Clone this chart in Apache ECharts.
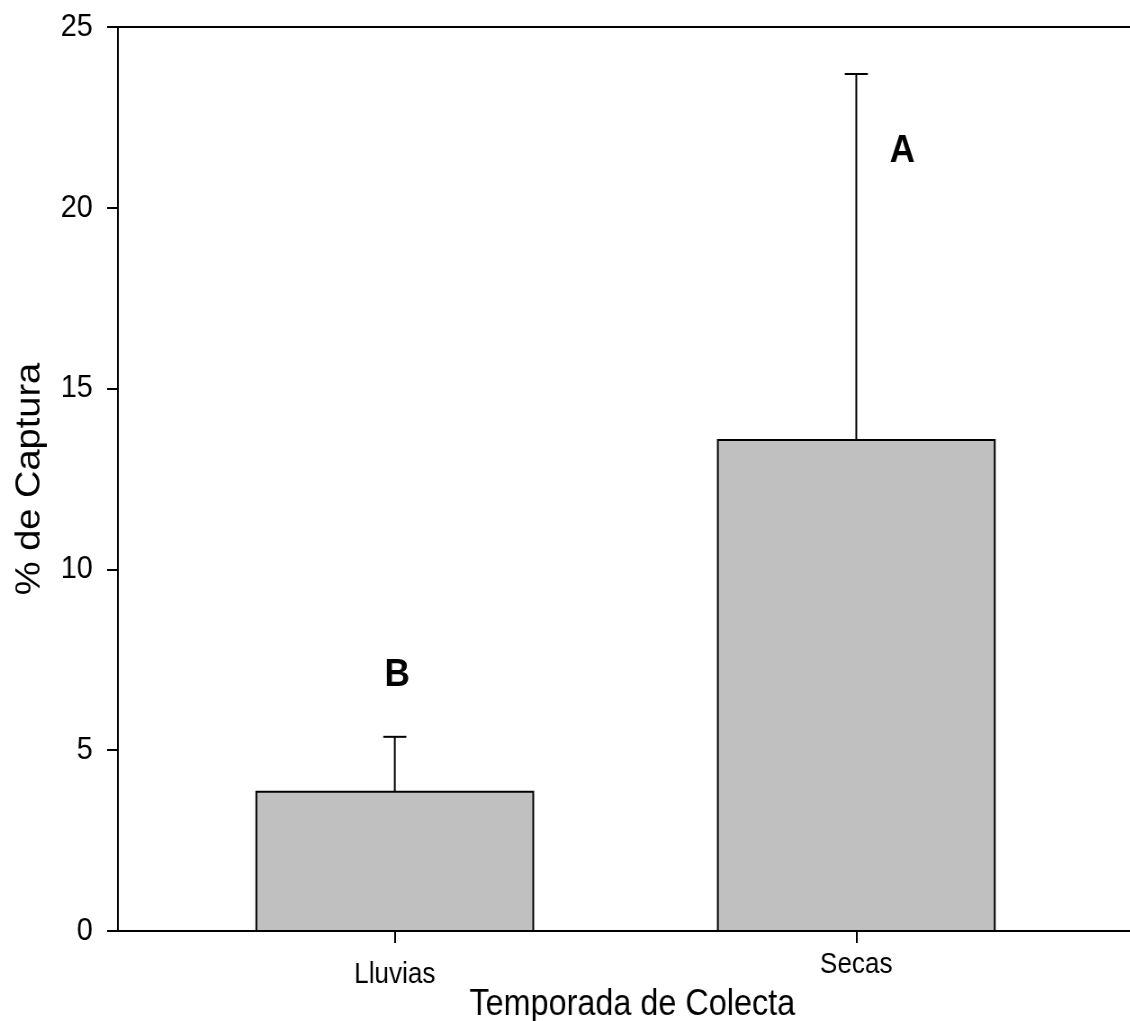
<!DOCTYPE html>
<html>
<head>
<meta charset="utf-8">
<script src="https://cdn.jsdelivr.net/npm/echarts@6/dist/echarts.min.js"></script>
<style>
html,body{margin:0;padding:0;background:#fff;overflow:hidden;}
#wrap{width:1130px;height:1021px;overflow:hidden;}
#chart{width:1256px;height:1021px;transform:scaleX(0.9);transform-origin:0 0;}
</style>
</head>
<body>
<div id="wrap"><div id="chart"></div></div>
<script>
// Data
const categories = ['Lluvias', 'Secas'];
const categoryPos = [1, 2];
const meanValues = [3.85, 13.58];
const upperValues = [5.37, 23.70];
const letterLabels = ['B', 'A'];
const letterX = [1.005, 2.1];
const letterY = [7.08, 21.57];
const yTicks = [0, 5, 10, 15, 20, 25];

const font = '"Liberation Sans", Arial, Helvetica, sans-serif';

const barData = categoryPos.map((x, i) => [x, meanValues[i]]);
const errData = categoryPos.map((x, i) => [x, meanValues[i], upperValues[i]]);
const letterData = letterLabels.map((t, i) => [letterX[i], letterY[i], t]);

const chart = echarts.init(document.getElementById('chart'));
chart.setOption({
  animation: false,
  backgroundColor: '#fff',
  grid: { left: 131, right: 0, top: 27, bottom: 90, containLabel: false, outerBoundsMode: 'none' },
  xAxis: [{
    type: 'value',
    min: 0.4,
    max: 2.594,
    position: 'bottom',
    splitLine: { show: false },
    axisLine: { show: true, onZero: false, lineStyle: { color: '#000', width: 2 } },
    axisTick: { show: true, customValues: categoryPos, length: 12, lineStyle: { color: '#000', width: 2 } },
    axisLabel: {
      customValues: categoryPos,
      margin: 19,
      formatter: function (v) {
        const i = categoryPos.indexOf(Math.round(v));
        if (i < 0) return '';
        return i === 0 ? '{a|' + categories[i] + '}' : '{b|' + categories[i] + '}';
      },
      rich: {
        a: { fontFamily: font, fontSize: 29, color: '#000', padding: [10, 0, 0, 0] },
        b: { fontFamily: font, fontSize: 29, color: '#000', padding: [0, 0, 0, 0] }
      }
    },
    name: 'Temporada de Colecta',
    nameLocation: 'middle',
    nameGap: 56,
    nameMoveOverlap: false,
    nameTextStyle: { fontFamily: font, fontSize: 36, color: '#000', padding: [0, 0, 0, 18] }
  }, {
    type: 'value',
    min: 0.4,
    max: 2.594,
    position: 'top',
    splitLine: { show: false },
    axisLine: { show: true, onZero: false, lineStyle: { color: '#000', width: 2 } },
    axisTick: { show: false },
    axisLabel: { show: false }
  }],
  yAxis: {
    type: 'value',
    min: 0,
    max: 25,
    interval: 5,
    splitLine: { show: false },
    axisLine: { show: true, onZero: false, lineStyle: { color: '#000', width: 2 } },
    axisTick: { show: true, length: 12, lineStyle: { color: '#000', width: 2 } },
    axisLabel: {
      margin: 28,
      fontFamily: font,
      fontSize: 32,
      color: '#000',
      formatter: function (v) { return yTicks.indexOf(v) >= 0 ? String(v) : ''; }
    },
    name: '% de Captura',
    nameLocation: 'middle',
    nameGap: 78,
    nameRotate: 90,
    nameMoveOverlap: false,
    nameTextStyle: { fontFamily: font, fontSize: 38, color: '#000' }
  },
  series: [{
    type: 'custom',
    xAxisIndex: 0,
    data: barData,
    z: 2,
    renderItem: function (params, api) {
      const x = api.value(0), v = api.value(1);
      const p0 = api.coord([x - 0.3, v]);
      const p1 = api.coord([x + 0.3, 0]);
      return {
        type: 'rect',
        shape: { x: p0[0], y: p0[1], width: p1[0] - p0[0], height: p1[1] - p0[1] },
        style: { fill: '#c0c0c0', stroke: '#000', lineWidth: 2 }
      };
    }
  }, {
    type: 'custom',
    xAxisIndex: 0,
    data: errData,
    z: 3,
    renderItem: function (params, api) {
      const x = api.value(0), lo = api.value(1), hi = api.value(2);
      const pLo = api.coord([x, lo]);
      const pHi = api.coord([x, hi]);
      const cap = 12.8;
      return {
        type: 'group',
        children: [{
          type: 'line',
          shape: { x1: pLo[0], y1: pLo[1], x2: pHi[0], y2: pHi[1] },
          style: { stroke: '#000', lineWidth: 2 }
        }, {
          type: 'line',
          shape: { x1: pHi[0] - cap, y1: pHi[1], x2: pHi[0] + cap, y2: pHi[1] },
          style: { stroke: '#000', lineWidth: 2 }
        }]
      };
    }
  }, {
    type: 'custom',
    xAxisIndex: 0,
    data: letterData,
    z: 4,
    renderItem: function (params, api) {
      const p = api.coord([api.value(0), api.value(1)]);
      return {
        type: 'text',
        x: p[0],
        y: p[1],
        style: {
          text: letterLabels[params.dataIndex],
          fill: '#000',
          font: 'bold 39px ' + font,
          align: 'center',
          verticalAlign: 'middle'
        }
      };
    }
  }]
});
</script>
</body>
</html>
